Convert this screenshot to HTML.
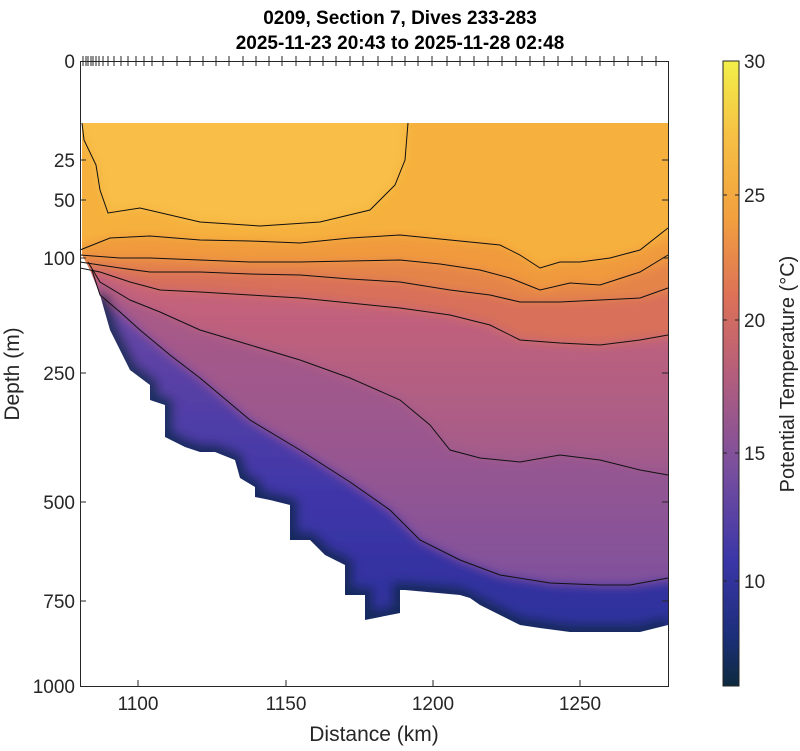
<!DOCTYPE html>
<html><head><meta charset="utf-8"><style>
body{margin:0;background:#fff;}
svg text{font-family:"Liberation Sans",sans-serif;}
</style></head><body>
<svg width="800" height="746" viewBox="0 0 800 746" xmlns="http://www.w3.org/2000/svg">
<defs>
<clipPath id="c"><path d="M82,123 L668,123 L668,625 L640,632 L570,632 L540,628 L520,625 L500,615 L480,605 L470,598 L460,595 L405,590 L400,590 L400,613 L365,620 L365,595 L345,595 L345,565 L325,555 L310,540 L290,540 L290,505 L270,500 L255,497 L255,487 L240,478 L235,460 L215,452 L200,452 L185,447 L165,437 L165,405 L150,400 L150,385 L130,370 L120,350 L110,330 L100,295 L90,270 L82,255 Z"/></clipPath>
<filter id="b" x="-5%" y="-5%" width="110%" height="110%"><feGaussianBlur stdDeviation="5"/></filter>
<linearGradient id="g7" x1="0" y1="300" x2="0" y2="640" gradientUnits="userSpaceOnUse">
<stop offset="0" stop-color="#6a48a4"/><stop offset="0.6" stop-color="#3d35a8"/><stop offset="1" stop-color="#2b2f9a"/></linearGradient>
<linearGradient id="g6" x1="0" y1="300" x2="0" y2="580" gradientUnits="userSpaceOnUse">
<stop offset="0" stop-color="#c4627a"/><stop offset="0.5" stop-color="#a85c88"/><stop offset="1" stop-color="#7a50a0"/></linearGradient>
<linearGradient id="cb" x1="0" y1="686" x2="0" y2="61" gradientUnits="userSpaceOnUse">
<stop offset="0" stop-color="#0d2a3e"/><stop offset="0.08" stop-color="#1c2f7a"/><stop offset="0.2" stop-color="#3a36a8"/><stop offset="0.35" stop-color="#7a4f9e"/><stop offset="0.5" stop-color="#b55e7c"/><stop offset="0.62" stop-color="#dc7058"/><stop offset="0.75" stop-color="#f2a03e"/><stop offset="0.88" stop-color="#f6c044"/><stop offset="1" stop-color="#f2ef48"/></linearGradient>
</defs>
<g clip-path="url(#c)">
<g filter="url(#b)">
<rect x="60" y="100" width="630" height="620" fill="#f6b03e"/>
<path d="M70,110 L84,140 L96,165 L100,190 L108,213 L140,208 L200,222 L260,226 L320,222 L370,210 L395,185 L405,160 L408,110 Z" fill="#f8be46"/>
<path d="M60,250 L110,238 L150,236 L200,240 L250,241 L300,243 L350,238 L400,235 L450,240 L500,245 L520,255 L540,268 L560,262 L580,262 L610,258 L640,250 L690,228 L690,720 L60,720 Z" fill="#f09a3e"/>
<path d="M60,255 L120,258 L150,258 L200,260 L250,262 L300,262 L350,261 L400,260 L440,264 L480,270 L510,278 L540,290 L570,283 L600,285 L640,272 L690,255 L690,720 L60,720 Z" fill="#e58448"/>
<path d="M60,262 L120,268 L150,272 L200,272 L250,274 L300,275 L350,279 L400,282 L450,290 L490,295 L520,302 L560,302 L600,300 L640,298 L690,288 L690,720 L60,720 Z" fill="#d8705a"/>
<path d="M60,268 L100,272 L130,282 L160,290 L200,292 L250,295 L300,298 L350,303 L400,308 L450,315 L490,325 L520,340 L560,343 L600,345 L640,340 L690,335 L690,720 L60,720 Z" fill="url(#g6)"/>
<path d="M60,275 L100,282 L130,300 L160,312 L200,330 L250,345 L300,360 L350,378 L400,400 L430,425 L450,450 L480,458 L520,462 L560,455 L600,460 L640,470 L690,475 L690,720 L60,720 Z" fill="#8a5296" opacity="0.45"/>
<path d="M60,290 L100,295 L120,312 L140,330 L170,355 L200,378 L250,420 L300,450 L350,482 L390,510 L420,540 L460,560 L500,575 L550,583 L600,585 L630,585 L690,578 L690,720 L60,720 Z" fill="url(#g7)"/>
<path d="M100,295 L110,330 L130,370 L150,385 L150,400 L165,405 L165,437 L185,447 L200,452 L215,452 L235,460 L240,478 L255,487 L255,497 L270,500 L290,505 L290,540 L310,540 L325,555 L345,565 L345,595 L365,595 L365,620 L400,613 L400,590 L405,590 L460,595 L480,605 L500,615 L520,625 L570,632 L640,632 L668,625" fill="none" stroke="#0f2a50" stroke-width="16" opacity="0.85"/>
</g>
</g>
<g fill="none" stroke="#111" stroke-width="1">
<path d="M82,123 L84,140 L96,165 L100,190 L108,213 L140,208 L200,222 L260,226 L320,222 L370,210 L395,185 L405,160 L408,123"/>
<path d="M80,250 L110,238 L150,236 L200,240 L250,241 L300,243 L350,238 L400,235 L450,240 L500,245 L520,255 L540,268 L560,262 L580,262 L610,258 L640,250 L668,228"/>
<path d="M80,255 L120,258 L150,258 L200,260 L250,262 L300,262 L350,261 L400,260 L440,264 L480,270 L510,278 L540,290 L570,283 L600,285 L640,272 L668,255"/>
<path d="M80,262 L120,268 L150,272 L200,272 L250,274 L300,275 L350,279 L400,282 L450,290 L490,295 L520,302 L560,302 L600,300 L640,298 L668,288"/>
<path d="M80,268 L100,272 L130,282 L160,290 L200,292 L250,295 L300,298 L350,303 L400,308 L450,315 L490,325 L520,340 L560,343 L600,345 L640,340 L668,335"/>
<path d="M88,262 L100,282 L130,300 L160,312 L200,330 L250,345 L300,360 L350,378 L400,400 L430,425 L450,450 L480,458 L520,462 L560,455 L600,460 L640,470 L668,475"/>
<path d="M92,270 L100,295 L120,312 L140,330 L170,355 L200,378 L250,420 L300,450 L350,482 L390,510 L420,540 L460,560 L500,575 L550,583 L600,585 L630,585 L668,578"/>
</g>
<g stroke="#262626" stroke-width="1" fill="none">
<rect x="80.5" y="61.5" width="588" height="625"/>
<path d="M80,160h6M80,200h6M80,258h6M80,373h6M80,502h6M80,601h6M668,160h-6M668,200h-6M668,258h-6M668,373h-6M668,502h-6M668,601h-6"/>
<path d="M138,686v-6M286,686v-6M433,686v-6M580,686v-6"/>
<path d="M83,56v10M86,56v10M88,56v10M91,56v10M93,56v10M96,56v10M99,56v10M103,56v10M108,56v10M114,56v10M121,56v10M128,56v10M136,56v10M144,56v10M152,56v10M163,56v10M177,56v10M190,56v10M203,56v10M216,56v10M229,56v10M243,56v10M256,56v10M269,56v10M282,56v10M296,56v10M310,56v10M323,56v10M336,56v10M350,56v10M363,56v10M378,56v10M392,56v10M405,56v10M418,56v10M432,56v10M447,56v10M460,56v10M474,56v10M488,56v10M502,56v10M516,56v10M530,56v10M544,56v10M558,56v10M572,56v10M586,56v10M600,56v10M614,56v10M628,56v10M642,56v10M656,56v10"/>
</g>
<g font-size="19" fill="#262626">
<text x="400" y="24" text-anchor="middle" font-weight="bold" fill="#000">0209, Section 7, Dives 233-283</text>
<text x="400" y="49" text-anchor="middle" font-weight="bold" fill="#000">2025-11-23 20:43 to 2025-11-28 02:48</text>
<g text-anchor="end"><text x="75" y="68">0</text><text x="75" y="167">25</text><text x="75" y="207">50</text><text x="75" y="265">100</text><text x="75" y="380">250</text><text x="75" y="509">500</text><text x="75" y="608">750</text><text x="75" y="693">1000</text></g>
<g text-anchor="middle"><text x="138" y="710">1100</text><text x="286" y="710">1150</text><text x="433" y="710">1200</text><text x="580" y="710">1250</text></g>
<text x="374" y="741" text-anchor="middle" font-size="21">Distance (km)</text>
<text transform="translate(19,374) rotate(-90)" text-anchor="middle" font-size="21">Depth (m)</text>
<rect x="723" y="61" width="16" height="625" fill="url(#cb)" stroke="#262626"/>
<path d="M739,195h-4M739,320h-4M739,453h-4M739,581h-4M723,195h4M723,320h4M723,453h4M723,581h4" stroke="#262626"/>
<g><text x="744" y="68">30</text><text x="744" y="202">25</text><text x="744" y="327">20</text><text x="744" y="460">15</text><text x="744" y="588">10</text></g>
<text transform="translate(794,374) rotate(-90)" text-anchor="middle" font-size="20">Potential Temperature (°C)</text>
</g>
</svg>
</body></html>
